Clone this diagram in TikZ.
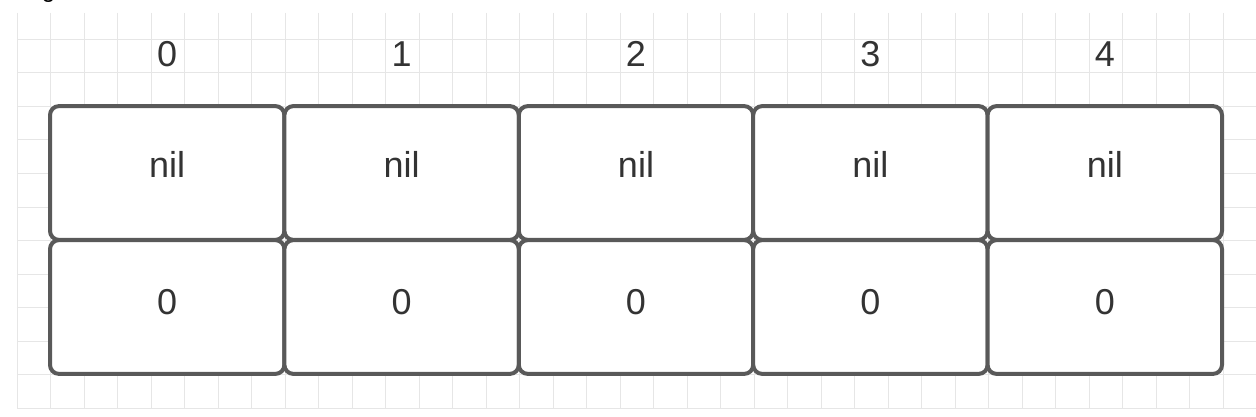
\documentclass[tikz,border=0pt]{standalone}
\usepackage{fontspec}
\setmainfont{Liberation Sans}
\definecolor{boxgray}{HTML}{595959}
\definecolor{txtgray}{HTML}{333333}
\definecolor{gridgray}{HTML}{E6E6E6}
\begin{document}
\begin{tikzpicture}[x=1pt,y=-1pt,
  gridline/.style={draw=gridgray, line width=1pt},
  cell/.style={draw=boxgray, line width=4pt, rounded corners=9pt, fill=white,
    minimum width=234.4pt, minimum height=133.8pt, inner sep=0pt},
  lbl/.style={text=txtgray, font=\fontsize{36}{40}\selectfont, anchor=base, inner sep=0pt}]
\useasboundingbox[fill=white] (0,0) rectangle (1256,417);
% background grid
\begin{scope}
  \clip (16.5,13) rectangle (1256,408.5);
  \foreach \i in {0,...,37} \draw[gridline] (17+33.5*\i,13) -- (17+33.5*\i,408.5);
  \foreach \j in {0,...,11} \draw[gridline] (17,39.5+33.5*\j) -- (1256,39.5+33.5*\j);
\end{scope}
% cut-off caption glyph at the top edge
\begin{scope}
  \clip (0,0) rectangle (1256,13);
  \node[text=black, font=\fontsize{24}{28}\selectfont, anchor=base, inner sep=0pt] (cap) at (48.5,-2) {g};
\end{scope}
% cells
\foreach \k in {0,...,4} {
  \node[cell] (top\k) at ({50+234.4*\k+117.2},173) {};
  \node[cell] (bot\k) at ({50+234.4*\k+117.2},307) {};
  \node[lbl] (idx\k) at ({50+234.4*\k+117.2},67) {\k};
  \node[lbl] (nil\k) at ({50+234.4*\k+117.2},178) {nil};
  \node[lbl] (zero\k) at ({50+234.4*\k+117.2},314) {0};
}
\end{tikzpicture}
\end{document}
